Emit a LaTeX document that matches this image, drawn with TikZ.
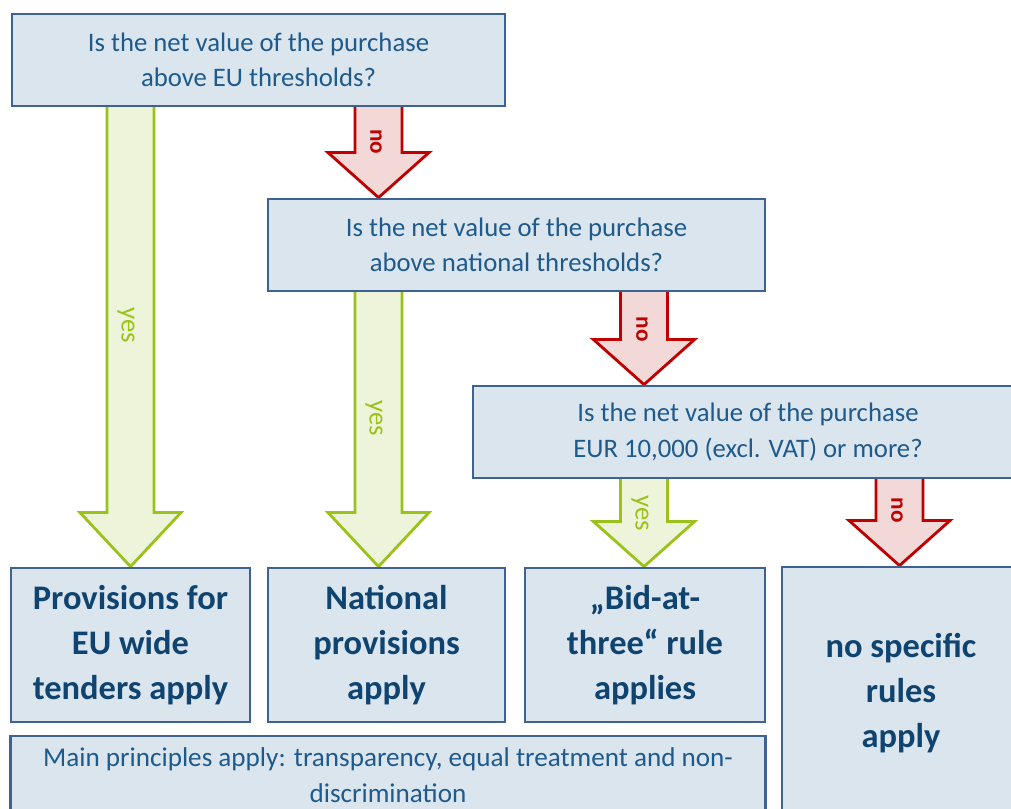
\documentclass[tikz,border=0pt]{standalone}
\usepackage{fontspec}
\setmainfont{Carlito}
\usetikzlibrary{calc, backgrounds}

\definecolor{boxfill}{RGB}{218,229,238}
\definecolor{boxline}{RGB}{62,98,145}
\definecolor{asktext}{RGB}{31,90,140}
\definecolor{ruletext}{RGB}{16,68,112}
\definecolor{yesline}{RGB}{155,194,26}
\definecolor{yesfill}{RGB}{238,244,218}
\definecolor{noline}{RGB}{192,0,0}
\definecolor{nofill}{RGB}{243,216,216}

\begin{document}
\begin{tikzpicture}[x=0.025cm, y=-0.025cm,
    question/.style={draw=boxline, fill=boxfill, line width=2pt, text=asktext, align=center, font=\fontsize{19}{25}\selectfont, minimum height=2.3cm, inner sep=0pt},
    outcome/.style={draw=boxline, fill=boxfill, line width=2pt, text=ruletext, align=center, font=\fontsize{24.5}{32}\selectfont\bfseries, inner sep=0pt},
    yesarrow/.style={draw=yesline, fill=yesfill, line width=2pt},
    noarrow/.style={draw=noline, fill=nofill, line width=2pt},
    yeslabel/.style={text=yesline, rotate=-90, font=\fontsize{19}{19}\selectfont, inner sep=0pt},
    nolabel/.style={text=noline, rotate=-90, font=\fontsize{16.5}{16.5}\selectfont\bfseries, inner sep=0pt}]

    \useasboundingbox (0, 0) rectangle (1011, 808);

    \node [question, minimum width=12.325cm] (q1) at (258.5, 60) {Is the net value of the purchase\\above EU thresholds?};
    \node [question, minimum width=12.425cm] (q2) at (516.5, 245) {Is the net value of the purchase\\above national thresholds?};
    \node [question, minimum width=13.75cm] (q3) at (748, 432) {Is the net value of the purchase\\EUR 10,000 (excl. VAT) or more?};

    \node [outcome, minimum width=5.975cm, minimum height=3.85cm] (r1) at (130.5, 645) {Provisions for\\EU wide\\tenders apply};
    \node [outcome, minimum width=5.925cm, minimum height=3.85cm] (r2) at (386.5, 645) {National\\provisions\\apply};
    \node [outcome, minimum width=6cm, minimum height=3.85cm] (r3) at (645, 645) {\char"201E Bid-at-\\three\char"201C{} rule\\applies};
    \node [outcome, minimum width=5.95cm, minimum height=6.325cm] (r4) at (901, 693.5) {no specific\\rules\\apply};

    \node [question, font=\fontsize{19.3}{25.5}\selectfont, minimum width=18.85cm, minimum height=1.975cm] (main) at (388, 775.5) {Main principles apply: transparency, equal treatment and non-\\discrimination};

    % block arrows, shaft 47 wide, head 101 wide
    \coordinate (t1) at (130.5, 0 |- q1.south);
    \coordinate (b1) at (130.5, 0 |- r1.north);
    \coordinate (t2) at (378.5, 0 |- q1.south);
    \coordinate (b2) at (378.5, 0 |- q2.north);
    \coordinate (t3) at (378.5, 0 |- q2.south);
    \coordinate (b3) at (378.5, 0 |- r2.north);
    \coordinate (t4) at (644, 0 |- q2.south);
    \coordinate (b4) at (644, 0 |- q3.north);
    \coordinate (t5) at (644, 0 |- q3.south);
    \coordinate (b5) at (644, 0 |- r3.north);
    \coordinate (t6) at (899.5, 0 |- q3.south);
    \coordinate (b6) at (899.5, 0 |- r4.north);

    \begin{pgfonlayer}{background}
    \draw [yesarrow] ($(t1) + (-23.5, -4)$) -- ($(b1) + (-23.5, -54)$) -- ++(-27, 0) -- (b1) -- ++(50.5, -54) -- ++(-27, 0) -- ($(t1) + (23.5, -4)$) -- cycle;
    \draw [noarrow] ($(t2) + (-23.5, -4)$) -- ($(b2) + (-23.5, -45)$) -- ++(-27, 0) -- (b2) -- ++(50.5, -45) -- ++(-27, 0) -- ($(t2) + (23.5, -4)$) -- cycle;
    \draw [yesarrow] ($(t3) + (-23.5, -4)$) -- ($(b3) + (-23.5, -54)$) -- ++(-27, 0) -- (b3) -- ++(50.5, -54) -- ++(-27, 0) -- ($(t3) + (23.5, -4)$) -- cycle;
    \draw [noarrow] ($(t4) + (-23.5, -4)$) -- ($(b4) + (-23.5, -45)$) -- ++(-27, 0) -- (b4) -- ++(50.5, -45) -- ++(-27, 0) -- ($(t4) + (23.5, -4)$) -- cycle;
    \draw [yesarrow] ($(t5) + (-23.5, -4)$) -- ($(b5) + (-23.5, -45)$) -- ++(-27, 0) -- (b5) -- ++(50.5, -45) -- ++(-27, 0) -- ($(t5) + (23.5, -4)$) -- cycle;
    \draw [noarrow] ($(t6) + (-23.5, -4)$) -- ($(b6) + (-23.5, -45)$) -- ++(-27, 0) -- (b6) -- ++(50.5, -45) -- ++(-27, 0) -- ($(t6) + (23.5, -4)$) -- cycle;
    \end{pgfonlayer}

    \node [yeslabel] (yes1) at (126, 325) {yes};
    \node [nolabel] (no1) at (376, 142) {no};
    \node [yeslabel] (yes2) at (374, 418) {yes};
    \node [nolabel] (no2) at (642, 329) {no};
    \node [yeslabel] (yes3) at (640, 513) {yes};
    \node [nolabel] (no3) at (897, 510) {no};

\end{tikzpicture}
\end{document}
